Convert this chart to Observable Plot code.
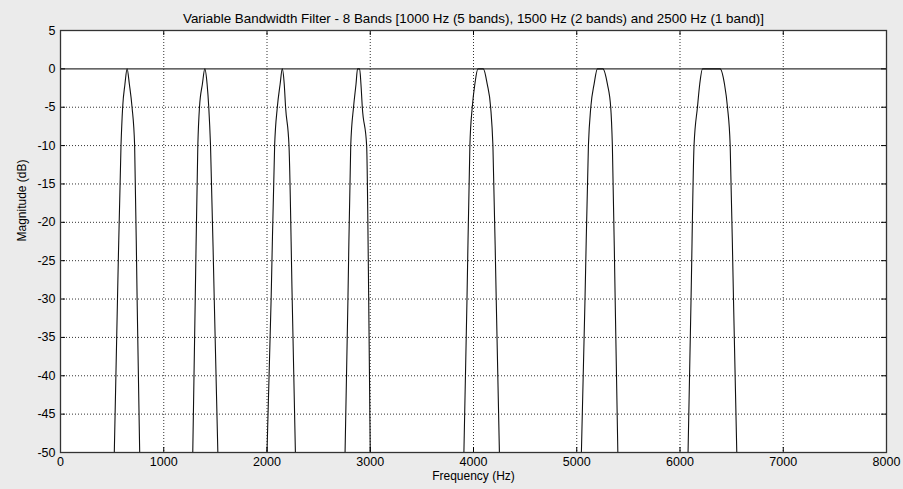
<!DOCTYPE html>
<html>
<head>
<meta charset="utf-8">
<script src="https://cdn.jsdelivr.net/npm/d3@7"></script>
<script src="https://cdn.jsdelivr.net/npm/@observablehq/plot@0.6"></script>
<style>
  html, body { margin: 0; padding: 0; background: #ebebeb; }
  #chart svg { display: block; }
</style>
</head>
<body>
<div id="chart"></div>
<script>
// Title and axis labels
const title = "Variable Bandwidth Filter - 8 Bands [1000 Hz (5 bands), 1500 Hz (2 bands) and 2500 Hz (1 band)]";
const xLabel = "Frequency (Hz)";
const yLabel = "Magnitude (dB)";

// Tick values
const xTicks = [0, 1000, 2000, 3000, 4000, 5000, 6000, 7000, 8000];
const yTicks = [5, 0, -5, -10, -15, -20, -25, -30, -35, -40, -45, -50];

// Magnitude levels (dB) at which each band edge was read
const riseLevels = [-50, -30, -10, -5, -2];
const fallLevels = [-2, -5, -10, -30, -50];

// Band edges (Hz): rising side, top (0 dB) start/end, falling side
const band1Rise = [521, 552, 586, 602, 624];
const band1Top  = [645, 645];
const band1Fall = [667, 693, 718, 742, 767];

const band2Rise = [1281, 1305, 1330, 1346, 1374];
const band2Top  = [1398, 1398];
const band2Fall = [1420, 1436, 1453, 1489, 1524];

const band3Rise = [2000, 2040, 2074, 2100, 2127];
const band3Top  = [2148, 2148];
const band3Fall = [2167, 2180, 2213, 2244, 2275];

const band4Rise = [2756, 2784, 2811, 2838, 2862];
const band4Top  = [2877, 2897];
const band4Fall = [2910, 2923, 2965, 2985, 3000];

const band5Rise = [3907, 3937, 3965, 3988, 4013];
const band5Top  = [4043, 4095];
const band5Fall = [4133, 4166, 4188, 4220, 4251];

const band6Rise = [5045, 5080, 5113, 5136, 5168];
const band6Top  = [5200, 5254];
const band6Fall = [5297, 5329, 5345, 5372, 5398];

const band7Rise = [6078, 6107, 6136, 6169, 6191];
const band7Top  = [6218, 6389];
const band7Fall = [6431, 6460, 6486, 6518, 6550];

const bands = [
  [band1Rise, band1Top, band1Fall],
  [band2Rise, band2Top, band2Fall],
  [band3Rise, band3Top, band3Fall],
  [band4Rise, band4Top, band4Fall],
  [band5Rise, band5Top, band5Fall],
  [band6Rise, band6Top, band6Fall],
  [band7Rise, band7Top, band7Fall]
];

// Passband reference line level
const passLevel = [0];

// Build table
const data = [];
bands.forEach(([rise, top, fall], i) => {
  rise.forEach((f, j) => data.push({band: i, f, db: riseLevels[j]}));
  top.forEach(f => data.push({band: i, f, db: 0}));
  fall.forEach((f, j) => data.push({band: i, f, db: fallLevels[j]}));
});

const W = 903, H = 489;
const mL = 60, mR = 17, mT = 30, mB = 37;
const plotW = W - mL - mR, plotH = H - mT - mB;
const tick = 5;

const gridX = xTicks.filter(d => d > 0 && d < 8000);
const gridY = yTicks.filter(d => d > -50 && d < 5 && d !== 0);

const chart = Plot.plot({
  width: W,
  height: H,
  marginLeft: mL,
  marginRight: mR,
  marginTop: mT,
  marginBottom: mB,
  style: {background: "#ebebeb", fontFamily: "'Liberation Sans', Arial, sans-serif", fontSize: "12px", color: "black"},
  x: {domain: [0, 8000], ticks: xTicks},
  y: {domain: [-50, 5], ticks: yTicks},
  marks: [
    Plot.frame({fill: "white", stroke: "none"}),
    Plot.ruleX(gridX, {stroke: "black", strokeWidth: 1, strokeDasharray: "1,2", strokeOpacity: 0.8}),
    Plot.ruleY(gridY, {stroke: "black", strokeWidth: 1, strokeDasharray: "1,2", strokeOpacity: 0.8}),
    Plot.ruleY(passLevel, {stroke: "#333", strokeWidth: 1.2}),
    Plot.line(data, {x: "f", y: "db", z: "band", curve: "monotone-x", stroke: "#111", strokeWidth: 1.1}),
    // inward ticks on all four sides
    Plot.tickX(xTicks, {x: d => d, stroke: "black", insetTop: plotH - tick}),
    Plot.tickX(xTicks, {x: d => d, stroke: "black", insetBottom: plotH - tick}),
    Plot.tickY(yTicks, {y: d => d, stroke: "black", insetRight: plotW - tick}),
    Plot.tickY(yTicks, {y: d => d, stroke: "black", insetLeft: plotW - tick}),
    Plot.frame({stroke: "#333", strokeWidth: 1.3}),
    Plot.axisX({ticks: xTicks, tickSize: 0, tickPadding: 5, label: null, tickFormat: d => String(d), fontSize: 12.5}),
    Plot.axisY({ticks: yTicks, tickSize: 0, tickPadding: 5, label: null, tickFormat: d => String(d), fontSize: 12.5}),
    Plot.text([xLabel], {frameAnchor: "bottom", dy: 27, text: d => d, fontSize: 12, fill: "black"}),
    Plot.text([yLabel], {frameAnchor: "left", dx: -38, rotate: -90, text: d => d, fontSize: 12, fill: "black"}),
    Plot.text([title], {frameAnchor: "top", dy: -17, text: d => d, fontSize: 13.4, fill: "black"})
  ]
});
document.getElementById("chart").appendChild(chart);
</script>
</body>
</html>
